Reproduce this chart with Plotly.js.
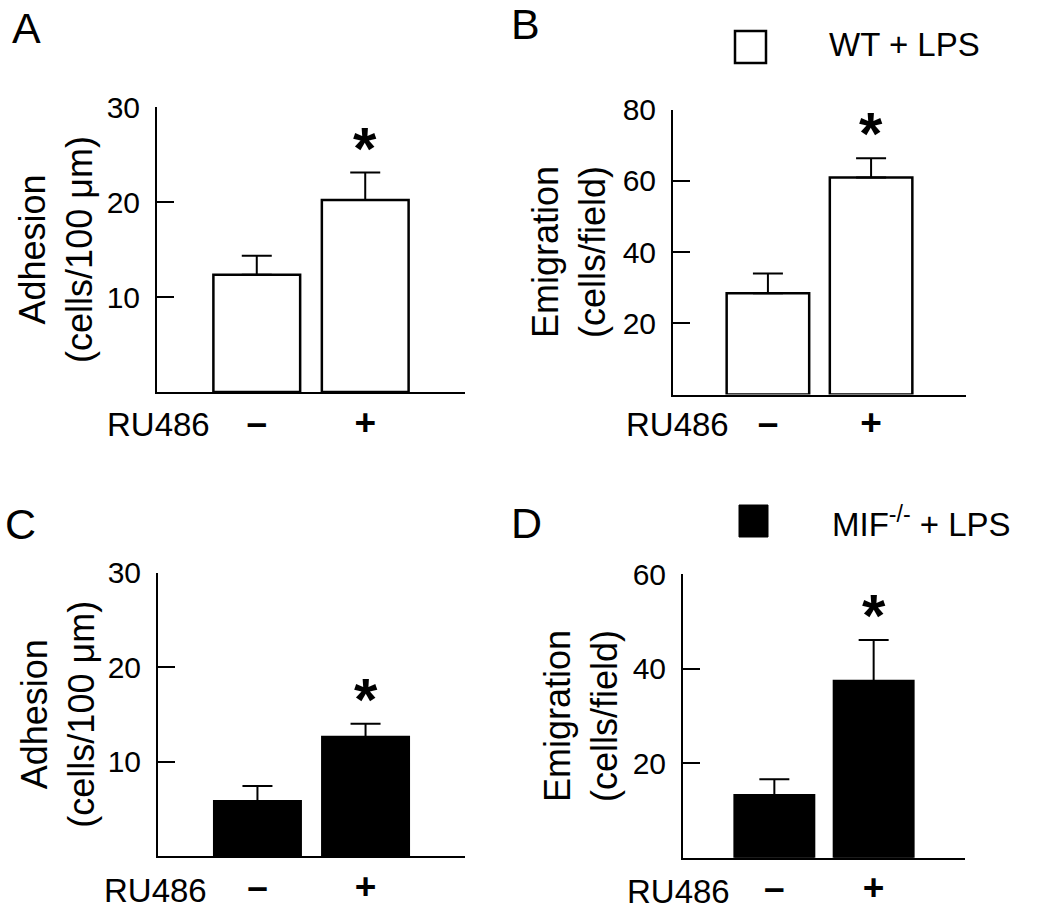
<!DOCTYPE html>
<html><head><meta charset="utf-8">
<script src="https://cdn.plot.ly/plotly-3.0.1.min.js"></script>
<style>body{margin:0;background:#fff}#chart{width:1050px;height:913px}</style>
</head><body><div id="chart"></div>
<script>
// ---- data ----
const categories = ["\u2013", "+"];
const adhesionWT = [12.35, 20.2];
const adhesionWTErr = [2.0, 2.9];
const emigrationWT = [28.4, 60.9];
const emigrationWTErr = [5.6, 5.4];
const adhesionMIF = [5.8, 12.6];
const adhesionMIFErr = [1.6, 1.4];
const emigrationMIF = [13.2, 37.4];
const emigrationMIFErr = [3.4, 8.7];
const panelLetters = ["A", "B", "C", "D"];
const legendLabels = ["WT + LPS", "MIF<sup>-/-</sup> + LPS"];
const yTitles = ["Adhesion<br>(cells/100 \u03bcm)", "Emigration<br>(cells/field)"];
const xLabel = "RU486";
const sigMark = "*";
const yTicksAdhesion = [10, 20, 30];
const yTicksEmigWT = [20, 40, 60, 80];
const yTicksEmigMIF = [20, 40, 60];

// ---- layout helpers (pixel -> paper) ----
const W = 1050, H = 913;
const px = x => x / W;
const py = y => 1 - y / H;
const FONT = "Liberation Sans, Arial, sans-serif";

const panels = [
  {vals: adhesionWT, errs: adhesionWTErr, fill: "#ffffff", title: yTitles[0], range: [0, 30], ticks: yTicksAdhesion,
   xd: [157, 465], yd: [107, 392], letter: panelLetters[0], letterPos: [10, 28], xlabR: 212, xlabY: 425, standoff: 3, xstand: -3},
  {vals: emigrationWT, errs: emigrationWTErr, fill: "#ffffff", title: yTitles[1], range: [0, 80], ticks: yTicksEmigWT,
   xd: [673, 966], yd: [109.5, 394.5], letter: panelLetters[1], letterPos: [509, 24], xlabR: 731, xlabY: 424, standoff: 6, xstand: -6},
  {vals: adhesionMIF, errs: adhesionMIFErr, fill: "#000000", title: yTitles[0], range: [0, 30], ticks: yTicksAdhesion,
   xd: [158, 465], yd: [572.5, 856], letter: panelLetters[2], letterPos: [3, 524], xlabR: 209, xlabY: 890, standoff: 2, xstand: -3},
  {vals: emigrationMIF, errs: emigrationMIFErr, fill: "#000000", title: yTitles[1], range: [0, 60], ticks: yTicksEmigMIF,
   xd: [683, 965], yd: [574.3, 857.7], letter: panelLetters[3], letterPos: [509, 523], xlabR: 732, xlabY: 891, standoff: 4, xstand: -4}
];

const data = [];
const layout = {
  width: W, height: H,
  margin: {l: 0, r: 0, t: 0, b: 0},
  paper_bgcolor: "#ffffff", plot_bgcolor: "rgba(0,0,0,0)",
  showlegend: false,
  font: {family: FONT, color: "#000000"},
  annotations: [], shapes: []
};

panels.forEach((p, i) => {
  const n = i + 1;
  const xa = "x" + (n === 1 ? "" : n), ya = "y" + (n === 1 ? "" : n);
  data.push({
    type: "bar", x: categories, y: p.vals, xaxis: xa, yaxis: ya, width: 0.8,
    marker: {color: p.fill, line: {color: "#000000", width: 2.5}},
    error_y: {type: "data", array: p.errs, arrayminus: p.errs.map(() => 0), symmetric: false,
              color: "#000000", thickness: 2, width: 15},
    hoverinfo: "skip"
  });
  layout["xaxis" + (n === 1 ? "" : n)] = {
    domain: [px(p.xd[0]), px(p.xd[1])], anchor: ya, type: "category", range: [-0.92, 1.92],
    showline: true, linecolor: "#000000", linewidth: 2, ticks: "", showgrid: false, zeroline: false,
    tickfont: {size: 37, weight: "bold", family: FONT}, ticklabelstandoff: p.xstand, fixedrange: true
  };
  layout["yaxis" + (n === 1 ? "" : n)] = {
    domain: [py(p.yd[1]), py(p.yd[0])], anchor: xa, range: p.range,
    showline: true, linecolor: "#000000", linewidth: 2, ticks: "inside", ticklen: 17, tickwidth: 2,
    tickcolor: "#000000", tickvals: p.ticks, showgrid: false, zeroline: false,
    tickfont: {size: 30, family: FONT}, ticklabelstandoff: 9, fixedrange: true,
    title: {text: p.title, font: {size: 36, family: FONT}, standoff: p.standoff}
  };
  // significance star over the "+" bar
  layout.annotations.push({
    xref: xa, yref: ya, x: categories[1], y: p.vals[1] + p.errs[1], yanchor: "bottom", yshift: -11,
    text: sigMark, showarrow: false, font: {size: 60, weight: "bold", family: FONT}
  });
  // RU486 label
  layout.annotations.push({
    xref: "paper", yref: "paper", x: px(p.xlabR), y: py(p.xlabY), xanchor: "right", yanchor: "middle",
    text: xLabel, showarrow: false, font: {size: 33, family: FONT}
  });
  // panel letter
  layout.annotations.push({
    xref: "paper", yref: "paper", x: px(p.letterPos[0]), y: py(p.letterPos[1]), xanchor: "left", yanchor: "middle",
    text: p.letter, showarrow: false, font: {size: 43, family: FONT}
  });
});

// legends (key squares + text)
layout.shapes.push({type: "rect", xref: "paper", yref: "paper", x0: px(735), x1: px(766), y0: py(63), y1: py(31),
  line: {color: "#000000", width: 2.5}, fillcolor: "#ffffff"});
layout.shapes.push({type: "rect", xref: "paper", yref: "paper", x0: px(739), x1: px(768), y0: py(537), y1: py(505),
  line: {color: "#000000", width: 1}, fillcolor: "#000000"});
layout.annotations.push({xref: "paper", yref: "paper", x: px(827), y: py(45), xanchor: "left", yanchor: "middle",
  text: legendLabels[0], showarrow: false, font: {size: 33, family: FONT}});
layout.annotations.push({xref: "paper", yref: "paper", x: px(830), y: py(522), xanchor: "left", yanchor: "middle",
  text: legendLabels[1], showarrow: false, font: {size: 33, family: FONT}});

Plotly.newPlot("chart", data, layout, {staticPlot: true, displayModeBar: false});
</script>
</body></html>
